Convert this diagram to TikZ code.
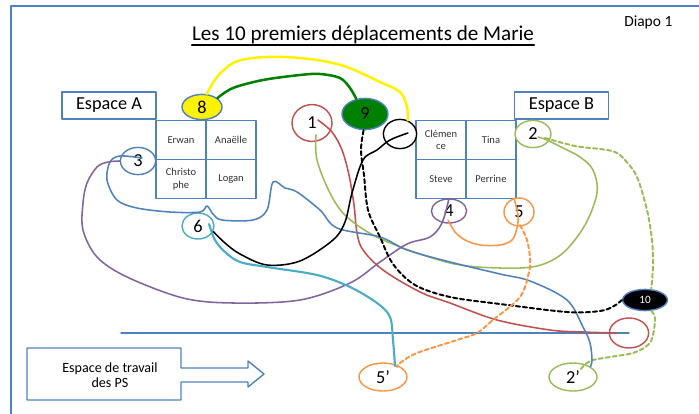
\documentclass[tikz,border=0pt]{standalone}
\usepackage{fontspec}
\setmainfont{Carlito}
\usetikzlibrary{shapes.geometric,calc}
\definecolor{bleuO}{HTML}{4F81BD}
\definecolor{rougeO}{HTML}{C0504D}
\definecolor{vertO}{HTML}{9BBB59}
\definecolor{violetO}{HTML}{8064A2}
\definecolor{turqO}{HTML}{4BACC6}
\definecolor{orangeO}{HTML}{F79646}
\definecolor{vertF}{HTML}{008000}
\tikzset{
  rond/.style={ellipse,draw,line width=1pt,fill=white,inner sep=0pt,font=\fontsize{13}{13}\selectfont},
  case/.style={draw=bleuO,line width=1pt,minimum width=1.25cm,minimum height=0.975cm,inner sep=1pt,align=center,text=black!80,font=\fontsize{7.5}{9}\selectfont},
  espace/.style={draw=bleuO,line width=1pt,minimum width=2.35cm,minimum height=0.675cm,inner sep=0pt,font=\fontsize{13}{13}\selectfont},
  trajet/.style={line width=1.1pt,smooth,tension=0.55},
  tirets/.style={line width=1.4pt,dash pattern=on 3pt off 2pt}
}
\begin{document}
\begin{tikzpicture}[x=0.025cm,y=-0.025cm,line cap=round,line join=round]
	\useasboundingbox (0,0) rectangle (699,414);
	\draw[bleuO,line width=1pt] (11,414)--(11,6)--(699,6);
	\node[anchor=base,inner sep=0pt,font=\fontsize{15}{16}\selectfont] (titre) at (363,40) {Les 10 premiers déplacements de Marie};
	\draw[line width=1.3pt] ([yshift=-3.6pt]titre.base west)--([yshift=-3.6pt]titre.base east);
	\node[anchor=base west,inner sep=0pt,font=\fontsize{11}{11}\selectfont] (diapo) at (624,26) {Diapo 1};
	\node[espace] (espA) at (109,105.5) {Espace A};
	\node[espace] (espB) at (561.5,105.5) {Espace B};
	\foreach \nom/\x/\y/\txt in {erwan/181/140/Erwan,anaelle/231/140/Anaëlle,christophe/181/179/{Christo\\phe},logan/231/179/Logan,
		clemence/441/140/{Clémen\\ce},tina/491/140/Tina,steve/441/179/Steve,perrine/491/179/Perrine}
		\node[case] (\nom) at (\x,\y) {\txt};
	\node[rond,draw=bleuO,fill=yellow,minimum width=1cm,minimum height=0.63cm] (e8) at (202,107) {8};
	\node[rond,draw=bleuO,fill=vertF,minimum width=1.15cm,minimum height=0.78cm] (e9) at (365,114) {9};
	\node[rond,draw=rougeO,minimum width=1cm,minimum height=0.92cm] (c1) at (312,123) {1};
	\node[rond,draw=black,minimum width=0.83cm,minimum height=0.73cm] (cn) at (400,134) {};
	\node[rond,draw=vertO,minimum width=0.9cm,minimum height=0.68cm] (c2) at (533,134) {2};
	\node[rond,draw=bleuO,minimum width=0.88cm,minimum height=0.68cm] (c3) at (138,161) {3};
	\node[rond,draw=turqO,minimum width=0.8cm,minimum height=0.65cm] (c6) at (198,226) {6};
	\node[rond,draw=violetO,minimum width=0.88cm,minimum height=0.6cm] (c4) at (449,211) {4};
	\node[rond,draw=orangeO,minimum width=0.75cm,minimum height=0.7cm] (c5) at (519,212) {5};
	\node[rond,draw=bleuO,fill=black,text=white,font=\fontsize{8}{8}\selectfont,minimum width=1.12cm,minimum height=0.53cm] (e10) at (645,300) {10};
	\node[rond,draw=rougeO,minimum width=0.98cm,minimum height=0.75cm] (cr) at (629,333) {};
	\node[rond,draw=orangeO,minimum width=1.2cm,minimum height=0.7cm] (c5p) at (383,377) {5’};
	\node[rond,draw=vertO,minimum width=1.2cm,minimum height=0.7cm] (c2p) at (573,377) {2’};
	\coordinate (ligne) at (121,333);
	\draw[bleuO,line width=1pt] (ligne)--(cr.center);
	\draw[trajet,yellow,line width=1.8pt] plot coordinates {(e8.70) (217,77) (233,63) (253,58) (283,57) (317,60) (347,67) (380,82) (400,92) (407,107) (cn.60)};
	\draw[trajet,vertF,line width=1.8pt] plot coordinates {(e8.30) (233,88) (263,80) (300,75) (320,74) (340,78) (350,88) (e9.120)};
	\draw[trajet,rougeO] plot coordinates {($(c1)+(6,-3)$) (332,132) (342,150) (349,175) (354,205) (357,233) (363,250) (383,270) (420,292) (450,303) (497,320) (550,330) (583,332) ($(cr.west)+(8,0)$)};
	\draw[trajet,vertO] plot coordinates {($(c1)+(4,12)$) (317,160) (330,193) (347,217) (383,240) (450,263) (500,268) (537,266) (563,253) (585,225) (597,193) (593,170) (580,157) (563,148) (547,140) ($(c2)+(5,3)$)};
	\draw[trajet,tirets,vertO] plot coordinates {($(c2)+(12,4)$) (575,146) (600,149) (615,152) (625,160) (637,177) (647,210) (652,240) (653,265) (e10.60)};
	\draw[trajet,tirets,vertO] plot coordinates {(e10.-60) (655,318) (653,335) (648,345) (633,353) (610,357) (590,361) ($(c2p)+(7,-7)$)};
	\draw[trajet,bleuO] plot coordinates {($(c3)+(4,-3)$) (120,156) (110,162) (107,180) (117,200) (137,208) (170,212) (200,212) (207,206) (213,214) (222,220) (253,220) (267,210) (273,182) (285,188) (297,192) (320,210) (337,228) (380,237) (407,250) (450,262) (500,274) (530,281) (567,300) (583,327) (590,343) (592,360) (c2p.north east)};
	\draw[trajet,violetO] plot coordinates {(c3.west) (108,162) (97,167) (87,183) (83,203) (83,230) (97,257) (127,277) (183,298) (233,303) (300,300) (350,283) (380,262) (407,244) (430,237) (442,223) (c4.north)};
	\draw[trajet,black] plot coordinates {(c6.-20) (225,243) (240,254) (267,265) (300,261) (333,240) (345,222) (352,193) (363,160) (377,150) (390,140) ($(cn)+(8,-1)$)};
	\draw[trajet,turqO,line width=1.5pt] plot coordinates {($(c6)+(11,-2)$) (215,240) (225,252) (240,262) (267,267) (317,275) (350,287) (377,303) (390,317) (393,340) ($(c5p)+(12,-11)$)};
	\draw[trajet,tirets,black] plot coordinates {(e9.-95) (361,150) (364,175) (368,210) (380,237) (393,264) (415,285) (450,297) (500,304) (567,312) (600,311) (614,306) (e10.west)};
	\draw[trajet,orangeO] plot coordinates {($(c4)+(-1,9)$) (455,232) (465,240) (480,245) (500,245) (512,240) (517,228) (518,215) (c5.110)};
	\draw[trajet,tirets,orangeO] plot coordinates {($(c5)+(1,13)$) (527,240) (530,258) (529,272) (520,297) (493,320) (477,333) (457,340) (417,353) (400,363) ($(c5p)+(14,-10)$)};
	\draw[bleuO,line width=1pt] (27,348)--(181,348)--(181,368)--(248,368)--(248,361)--(264,374)--(248,387)--(248,382)--(181,382)--(181,400)--(27,400)--cycle;
	\node[align=center,font=\fontsize{10}{11}\selectfont] (ept) at (110,375) {Espace de travail\\des PS};
\end{tikzpicture}
\end{document}
